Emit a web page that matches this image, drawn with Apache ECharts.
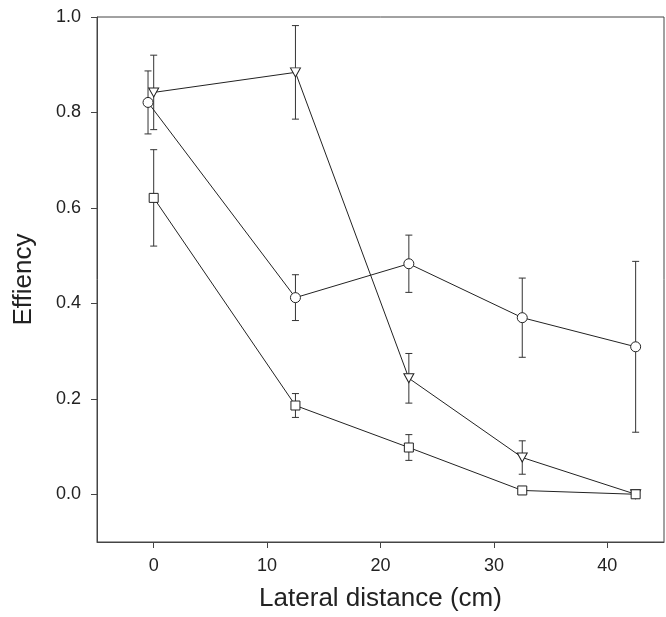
<!DOCTYPE html>
<html>
<head>
<meta charset="utf-8">
<script src="https://cdn.jsdelivr.net/npm/echarts@6/dist/echarts.min.js"></script>
<style>html,body{margin:0;padding:0;background:#fff}#c{width:666px;height:617px}</style>
</head>
<body>
<div id="c"></div>
<script>
var xTicks = [0, 10, 20, 30, 40];
var yTicks = [0, 0.2, 0.4, 0.6, 0.8, 1.0];

var circleX = [-0.5, 12.5, 22.5, 32.5, 42.5];
var circleY = [0.821, 0.412, 0.483, 0.370, 0.309];
var circleErr = [0.066, 0.048, 0.060, 0.083, 0.179];

var triX = [0, 12.5, 22.5, 32.5, 42.5];
var triY = [0.842, 0.884, 0.243, 0.077, 0.0];
var triErr = [0.078, 0.098, 0.052, 0.035, 0.0];

var sqX = [0, 12.5, 22.5, 32.5, 42.5];
var sqY = [0.621, 0.186, 0.098, 0.008, 0.0];
var sqErr = [0.101, 0.025, 0.027, 0.008, 0.004];

function pts(xs, ys) { return xs.map(function (x, i) { return [x, ys[i]]; }); }
function errPts(xs, ys, es) { return xs.map(function (x, i) { return [x, ys[i] - es[i], ys[i] + es[i]]; }); }

var font = '"Liberation Sans", Arial, sans-serif';
var ink = '#222';

function errSeries(data) {
  return {
    type: 'custom',
    z: 1,
    silent: true,
    data: data,
    renderItem: function (params, api) {
      var x = api.value(0), lo = api.value(1), hi = api.value(2);
      if (hi - lo <= 0) return null;
      var pLo = api.coord([x, lo]);
      var pHi = api.coord([x, hi]);
      var w = 3.5;
      var st = { stroke: '#333', lineWidth: 1 };
      return {
        type: 'group',
        children: [
          { type: 'line', shape: { x1: pLo[0], y1: pLo[1], x2: pHi[0], y2: pHi[1] }, style: st },
          { type: 'line', shape: { x1: pLo[0] - w, y1: pLo[1], x2: pLo[0] + w, y2: pLo[1] }, style: st },
          { type: 'line', shape: { x1: pHi[0] - w, y1: pHi[1], x2: pHi[0] + w, y2: pHi[1] }, style: st }
        ]
      };
    }
  };
}

function lineSeries(data, symbol, size, rotate) {
  return {
    type: 'line',
    z: 3,
    data: data,
    symbol: symbol,
    symbolSize: size,
    symbolRotate: rotate || 0,
    showAllSymbol: true,
    lineStyle: { color: ink, width: 1 },
    itemStyle: { color: '#fff', borderColor: ink, borderWidth: 1, opacity: 1 },
    emphasis: { disabled: true },
    animation: false
  };
}

var chart = echarts.init(document.getElementById('c'), null, { renderer: 'canvas' });
chart.setOption({
  animation: false,
  grid: { left: 97, right: 2, top: 17, bottom: 73, show: true, borderColor: '#444', borderWidth: 1, backgroundColor: 'transparent' },
  xAxis: {
    type: 'value', min: -5, max: 45,
    name: 'Lateral distance (cm)', nameLocation: 'middle', nameGap: 44,
    nameTextStyle: { fontFamily: font, fontSize: 26, color: ink },
    axisLine: { show: true, onZero: false, lineStyle: { color: '#444', width: 1 } },
    axisTick: { show: true, inside: false, length: 6, customValues: xTicks, lineStyle: { color: '#444' } },
    axisLabel: { customValues: xTicks, margin: 15, fontFamily: font, fontSize: 18, color: ink },
    splitLine: { show: false }
  },
  yAxis: {
    type: 'value', min: -0.1, max: 1.0,
    name: 'Effiency', nameLocation: 'middle', nameGap: 60, nameRotate: 90,
    nameTextStyle: { fontFamily: font, fontSize: 26, color: ink },
    axisLine: { show: true, onZero: false, lineStyle: { color: '#444', width: 1 } },
    axisTick: { show: true, inside: false, length: 6, customValues: yTicks, lineStyle: { color: '#444' } },
    axisLabel: { customValues: yTicks, margin: 16, fontFamily: font, fontSize: 18, color: ink,
      formatter: function (v) { return v.toFixed(1); } },
    splitLine: { show: false }
  },
  series: [
    errSeries(errPts(circleX, circleY, circleErr)),
    errSeries(errPts(triX, triY, triErr)),
    errSeries(errPts(sqX, sqY, sqErr)),
    lineSeries(pts(triX, triY), 'triangle', [10, 9], 180),
    lineSeries(pts(sqX, sqY), 'rect', 9),
    lineSeries(pts(circleX, circleY), 'circle', 10)
  ]
});
</script>
</body>
</html>
